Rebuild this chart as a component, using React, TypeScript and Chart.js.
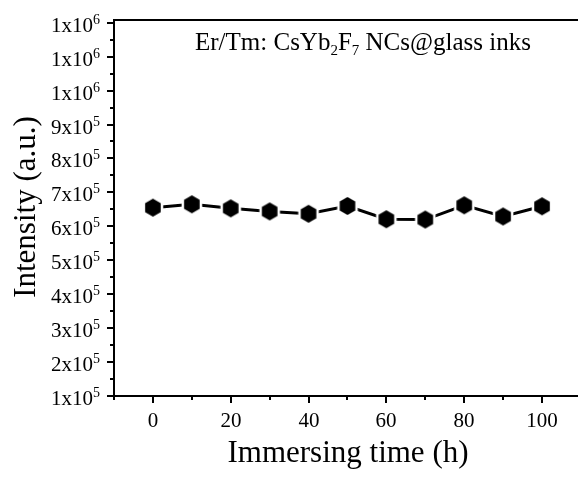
import React, { useEffect, useRef } from "react";
import { Chart, registerables } from "chart.js";

Chart.register(...registerables);

const hours = [0, 10, 20, 30, 40, 50, 60, 70, 80, 90, 100];
const intensity = [655000, 665000, 653000, 644000, 637000, 660000, 621000, 620000, 662000, 629000, 659000];
const xTickValues = [0, 20, 40, 60, 80, 100];
const xMinorTicks = [-10, 10, 30, 50, 70, 90];
const yTickValues = [100000, 200000, 300000, 400000, 500000, 600000, 700000, 800000, 900000, 1000000, 1100000, 1200000];
const xTitle = "Immersing time (h)";
const yTitle = "Intensity (a.u.)";
const titleParts: [string, "n" | "sub"][] = [
  ["Er/Tm: CsYb", "n"],
  ["2", "sub"],
  ["F", "n"],
  ["7", "sub"],
  [" NCs@glass inks", "n"],
];

const FONT = '"Liberation Serif", "Times New Roman", serif';

function makeHexagon(): HTMLCanvasElement {
  const c = document.createElement("canvas");
  c.width = 28;
  c.height = 28;
  const ctx = c.getContext("2d")!;
  const cx = 14, cy = 14, r = 9;
  ctx.beginPath();
  for (let i = 0; i < 6; i++) {
    const a = -Math.PI / 2 + (i * Math.PI) / 3;
    const x = cx + r * Math.cos(a);
    const y = cy + r * Math.sin(a);
    if (i === 0) ctx.moveTo(x, y);
    else ctx.lineTo(x, y);
  }
  ctx.closePath();
  ctx.strokeStyle = "#ffffff";
  ctx.lineWidth = 5;
  ctx.stroke();
  ctx.fillStyle = "#000000";
  ctx.fill();
  return c;
}

const overlay = {
  id: "overlay",
  afterDraw(chart: any) {
    const ctx = chart.ctx as CanvasRenderingContext2D;
    const xs = chart.scales.x;
    const ys = chart.scales.y;
    const area = chart.chartArea;
    ctx.save();
    ctx.strokeStyle = "#000";
    ctx.fillStyle = "#000";
    // top border
    ctx.lineWidth = 2;
    ctx.beginPath();
    ctx.moveTo(area.left - 1, area.top);
    ctx.lineTo(area.right, area.top);
    ctx.stroke();

    // y ticks
    ctx.lineWidth = 2;
    for (const v of yTickValues) {
      const y = Math.round(ys.getPixelForValue(v));
      ctx.beginPath();
      ctx.moveTo(area.left, y);
      ctx.lineTo(area.left - 7, y);
      ctx.stroke();
      const yMinor = Math.round(ys.getPixelForValue(v + 50000));
      if (v + 50000 <= ys.max) {
        ctx.beginPath();
        ctx.moveTo(area.left, yMinor);
        ctx.lineTo(area.left - 4, yMinor);
        ctx.stroke();
      }
      // label
      const exp = Math.floor(Math.log10(v) + 1e-9);
      const mant = Math.round(v / Math.pow(10, exp));
      const base = `${mant}x10`;
      const sup = `${exp}`;
      ctx.font = `14px ${FONT}`;
      const supW = ctx.measureText(sup).width;
      const rightX = 100;
      ctx.textAlign = "left";
      ctx.textBaseline = "alphabetic";
      ctx.fillText(sup, rightX - supW, y + 1);
      ctx.font = `21px ${FONT}`;
      const baseW = ctx.measureText(base).width;
      ctx.fillText(base, rightX - supW - baseW, y + 9);
    }

    // x ticks
    for (const v of xTickValues) {
      const x = Math.round(xs.getPixelForValue(v));
      ctx.beginPath();
      ctx.moveTo(x, area.bottom);
      ctx.lineTo(x, area.bottom + 7);
      ctx.stroke();
      ctx.font = `21px ${FONT}`;
      ctx.textAlign = "center";
      ctx.textBaseline = "alphabetic";
      ctx.fillText(String(v), x, 427);
    }
    for (const v of xMinorTicks) {
      const x = Math.round(xs.getPixelForValue(v));
      ctx.beginPath();
      ctx.moveTo(x, area.bottom);
      ctx.lineTo(x, area.bottom + 4);
      ctx.stroke();
    }

    // axis titles
    ctx.font = `31px ${FONT}`;
    ctx.textAlign = "center";
    ctx.textBaseline = "alphabetic";
    ctx.fillText(xTitle, 348, 462);
    ctx.save();
    ctx.translate(35, 207);
    ctx.rotate(-Math.PI / 2);
    ctx.fillText(yTitle, 0, 0);
    ctx.restore();

    // inner title with subscripts
    let tx = 195;
    const ty = 50;
    ctx.textAlign = "left";
    for (const [t, kind] of titleParts) {
      if (kind === "sub") {
        ctx.font = `15px ${FONT}`;
        ctx.fillText(t, tx, ty + 5);
      } else {
        ctx.font = `25px ${FONT}`;
        ctx.fillText(t, tx, ty);
      }
      tx += ctx.measureText(t).width;
    }
    ctx.restore();
  },
};

export default function App() {
  const ref = useRef<HTMLCanvasElement | null>(null);
  useEffect(() => {
    if (!ref.current) return;
    const hex = makeHexagon();
    const chart = new Chart(ref.current, {
      type: "line",
      data: {
        labels: hours,
        datasets: [
          {
            data: hours.map((h, i) => ({ x: h, y: intensity[i] })),
            borderColor: "#000",
            borderWidth: 3,
            pointStyle: hex as any,
            pointRadius: 10,
            pointHoverRadius: 10,
            tension: 0,
            fill: false,
          },
        ],
      },
      options: {
        animation: false,
        responsive: false,
        devicePixelRatio: 1,
        events: [],
        layout: { autoPadding: false, padding: { top: 20, left: 0, right: 0, bottom: 0 } },
        plugins: { legend: { display: false }, tooltip: { enabled: false }, title: { display: false } },
        scales: {
          x: {
            type: "linear",
            min: -10,
            max: 109.25,
            ticks: { display: false },
            grid: { display: false },
            border: { display: true, color: "#000", width: 2 },
            afterFit: (s: any) => {
              s.height = 83;
            },
          },
          y: {
            type: "linear",
            min: 100000,
            max: 1208000,
            ticks: { display: false },
            grid: { display: false },
            border: { display: true, color: "#000", width: 2 },
            afterFit: (s: any) => {
              s.width = 114;
            },
          },
        },
      },
      plugins: [overlay],
    });
    return () => chart.destroy();
  }, []);
  return (
    <div style={{ position: "fixed", left: 0, top: 0, width: 578, height: 479, background: "#fff", overflow: "hidden" }}>
      <canvas ref={ref} width={578} height={479} style={{ display: "block" }} />
    </div>
  );
}
